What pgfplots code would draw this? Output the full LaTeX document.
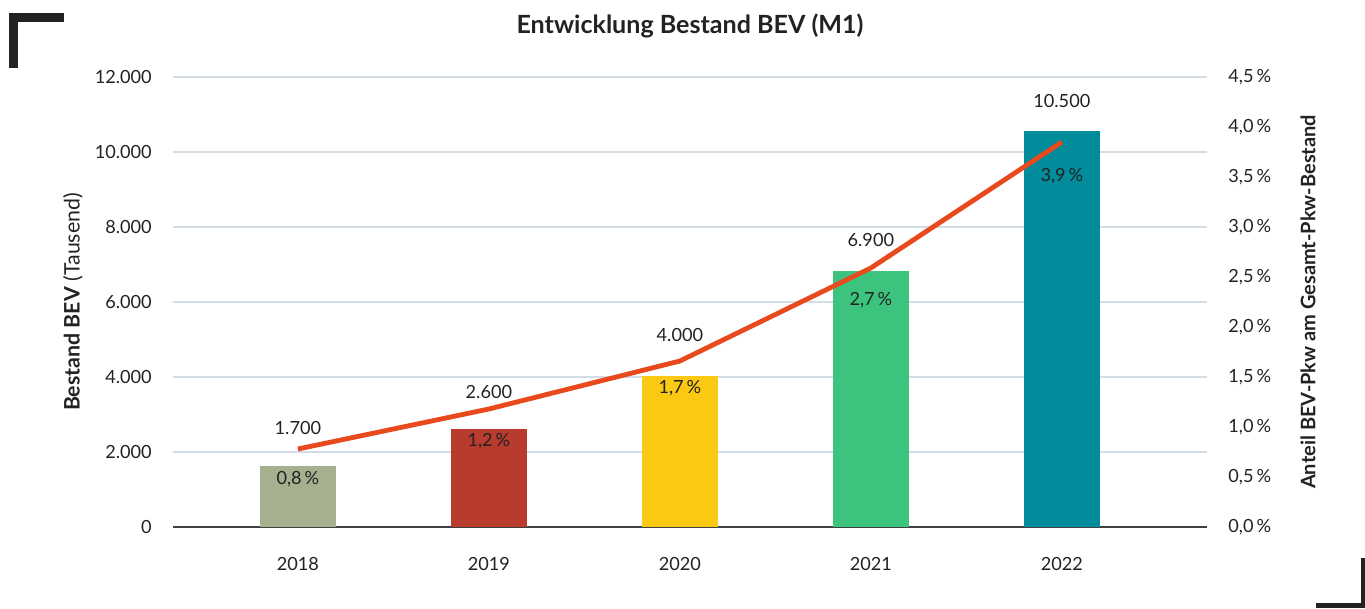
\documentclass[border=0pt]{standalone}
\usepackage{fontspec}
\setmainfont{Lato}
\usepackage{pgfplots}
\pgfplotsset{compat=1.18}
\definecolor{cA}{HTML}{A6B08E}
\definecolor{cB}{HTML}{B83B2D}
\definecolor{cC}{HTML}{FBC814}
\definecolor{cD}{HTML}{3CC47F}
\definecolor{cE}{HTML}{008C9A}
\definecolor{lineC}{HTML}{E8491D}
\definecolor{gridC}{HTML}{D3DDE5}
\definecolor{axC}{HTML}{404040}
\definecolor{txt}{HTML}{222222}
\begin{document}
\begin{tikzpicture}[x=0.75pt,y=-0.75pt]
\useasboundingbox (0,0) rectangle (1365,608);
\fill[txt] (9,13) rectangle (64,22);
\fill[txt] (9,13) rectangle (18,68);
\fill[txt] (1361,558) rectangle (1365,608);
\fill[txt] (1316,603) rectangle (1365,608);
\pgfplotsset{
  common/.style={
    at={(129.75pt,-395.25pt)}, anchor=south west,
    scale only axis, width=775.5pt, height=337.5pt,
    xmin=-0.654, xmax=4.76,
    /pgf/number format/assume math mode=true,
    tick style={draw=none},
    tick label style={font=\fontsize{13.6}{16}\selectfont, text=txt},
    label style={text=txt},
  },
  mybar/.style={ybar, bar width=57pt, bar shift=0pt, draw=none, fill=#1},
}
\begin{axis}[common,
  axis x line*=bottom, axis y line*=left,
  x axis line style={-, draw=axC, line width=1.3pt},
  y axis line style={draw=none},
  ymin=0, ymax=12000, ytick={0,2000,4000,6000,8000,10000,12000},
  scaled y ticks=false,
  yticklabel={\pgfmathprintnumber[1000 sep={.}]{\tick}},
  yticklabel style={xshift=-12.5pt},
  ymajorgrids, grid style={draw=gridC, line width=1pt},
  xtick={0,1,2,3,4}, xticklabels={2018,2019,2020,2021,2022},
  xticklabel style={yshift=-19pt},
  ylabel={\textbf{Bestand BEV} (Tausend)},
  ylabel style={font=\fontsize{16}{18}\selectfont, at={(axis description cs:-0.0967,0.5)}, anchor=center},
  title={Entwicklung Bestand BEV (M1)},
  title style={font=\fontsize{18.8}{22}\selectfont\bfseries, text=txt, at={(axis description cs:0.5,1.0956)}, anchor=center},
]
\addplot[mybar=cA] coordinates {(0,1630)};
\addplot[mybar=cB] coordinates {(1,2610)};
\addplot[mybar=cC] coordinates {(2,4030)};
\addplot[mybar=cD] coordinates {(3,6830)};
\addplot[mybar=cE] coordinates {(4,10560)};
\addplot[draw=none, mark=none, nodes near coords, point meta=explicit symbolic,
  every node near coord/.append style={anchor=center, font=\fontsize{13.6}{16}\selectfont, text=txt}]
  coordinates {(0,2640)[1.700] (1,3600)[2.600] (2,5120)[4.000] (3,7650)[6.900] (4,11360)[10.500]};
\end{axis}
\begin{axis}[common,
  axis x line=none, axis y line*=right,
  y axis line style={draw=none},
  ymin=0, ymax=4.5, ytick={0,0.5,1,1.5,2,2.5,3,3.5,4,4.5},
  yticklabel={\pgfmathprintnumber[fixed,fixed zerofill,precision=1,use comma]{\tick}\,\%},
  yticklabel style={xshift=12.5pt},
  ylabel={\textbf{Anteil BEV-Pkw am Gesamt-Pkw-Bestand}},
  ylabel style={font=\fontsize{15}{18}\selectfont, at={(axis description cs:1.0977,0.5)}, anchor=center},
]
\addplot[color=lineC, line width=3.6pt, line join=round, mark=none]
  coordinates {(0,0.78) (1,1.18) (2,1.66) (3,2.59) (4,3.85)};
\addplot[draw=none, mark=none, nodes near coords, point meta=explicit symbolic,
  every node near coord/.append style={anchor=center, font=\fontsize{13.6}{16}\selectfont, text=txt}]
  coordinates {(0,0.48)[{0,8\,\%}] (1,0.86)[{1,2\,\%}] (2,1.39)[{1,7\,\%}] (3,2.27)[{2,7\,\%}] (4,3.51)[{3,9\,\%}]};
\end{axis}
\end{tikzpicture}
\end{document}
